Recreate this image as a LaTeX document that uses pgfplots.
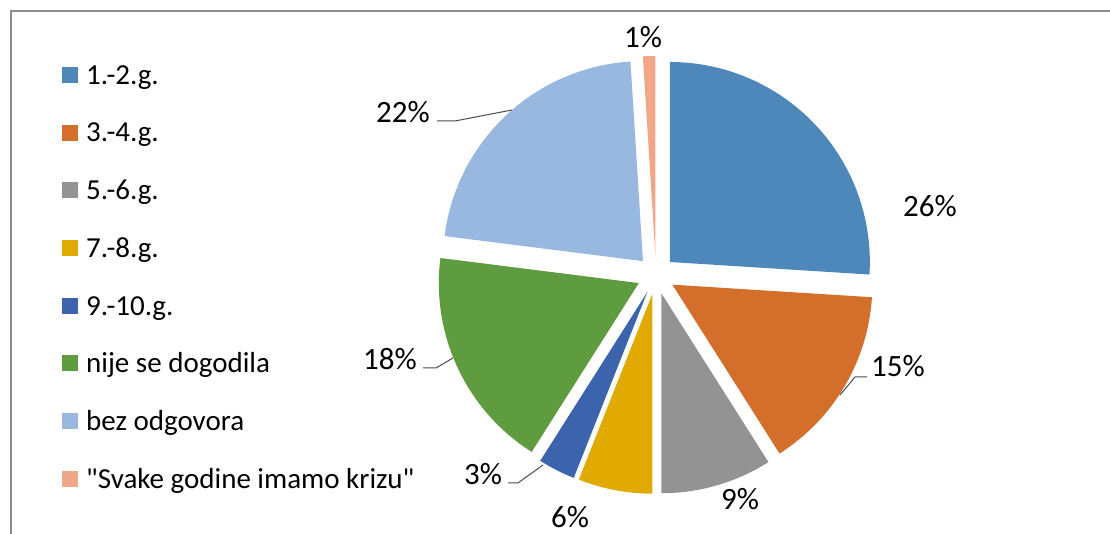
\documentclass[border=0pt]{standalone}
\usepackage{fontspec}
\setmainfont{Carlito}[Ligatures=TeXOff]
\usepackage{pgfplots}
\usepackage{pgfplotstable}
\pgfplotsset{compat=1.18}
\usetikzlibrary{calc}

\definecolor{cA}{HTML}{4E88BB}
\definecolor{cB}{HTML}{D46F2B}
\definecolor{cC}{HTML}{939393}
\definecolor{cD}{HTML}{E1AA00}
\definecolor{cE}{HTML}{3B64AD}
\definecolor{cF}{HTML}{5F9B3F}
\definecolor{cG}{HTML}{99B8DF}
\definecolor{cH}{HTML}{F2A688}

% share in %, slice colour, label position (px, y up)
\pgfplotstableread[col sep=comma]{
name,value,col,lx,ly
1.-2.g.,26,cA,930,327
3.-4.g.,15,cB,898,167
5.-6.g.,9,cC,740,34
7.-8.g.,6,cD,570,16
9.-10.g.,3,cE,483,59
nije se dogodila,18,cF,390,174
bez odgovora,22,cG,403,421
"Svake godine imamo krizu",1,cH,643,496
}\piedata

\begin{document}
\begin{tikzpicture}
\begin{axis}[
  x=1pt, y=1pt, xmin=0, xmax=1110, ymin=0, ymax=534,
  hide axis, clip=false, enlargelimits=false]
\pgfplotsextra{
  \coordinate (bl) at (axis cs:0,0);
  \coordinate (tr) at (axis cs:1110,534);
  % frame
  \draw[black!45, line width=1.5pt] (axis cs:11,0) -- (axis cs:11,523) -- (axis cs:1110,523);
  \def\cum{0}
  \pgfplotsforeachungrouped \i in {0,...,7}{%
    \pgfplotstablegetelem{\i}{value}\of\piedata \let\v\pgfplotsretval
    \pgfplotstablegetelem{\i}{col}\of\piedata \let\c\pgfplotsretval
    \pgfplotstablegetelem{\i}{name}\of\piedata \let\n\pgfplotsretval
    \pgfplotstablegetelem{\i}{lx}\of\piedata \let\lx\pgfplotsretval
    \pgfplotstablegetelem{\i}{ly}\of\piedata \let\ly\pgfplotsretval
    \pgfmathsetmacro\aS{90-3.6*\cum}
    \pgfmathsetmacro\aE{90-3.6*(\cum+\v)}
    \pgfmathsetmacro\aM{(\aS+\aE)/2}
    \fill[\c] ($(axis cs:656,259)+(\aM:19pt)$) -- ++(\aS:200pt)
      arc[start angle=\aS, end angle=\aE, radius=200pt] -- cycle;
    \pgfmathsetmacro\cum{\cum+\v}
    % data label
    \pgfmathsetmacro\lb{\ly-10}
    \node[anchor=base, inner sep=0pt, font=\fontsize{31}{36}\selectfont]
      at (axis cs:\lx,\lb) {\v\%};
    % legend entry
    \pgfmathsetmacro\Ly{459-57.7*\i}
    \fill[\c] (axis cs:62,\Ly-8) rectangle (axis cs:78,\Ly+8);
    \pgfmathsetmacro\Lb{\Ly-9.3}
    \node[anchor=base west, inner sep=0pt, font=\fontsize{29}{32}\selectfont]
      at (axis cs:86,\Lb) {\n};
  }
  % leader lines
  \draw[black!70, line width=1pt] (axis cs:437,413) -- (axis cs:455,413) -- (axis cs:512,424);
  \draw[black!70, line width=1pt] (axis cs:423,166) -- (axis cs:436,166) -- (axis cs:453,176);
  \draw[black!70, line width=1pt] (axis cs:508,51) -- (axis cs:518,51) -- (axis cs:543,69);
  \draw[black!70, line width=1pt] (axis cs:867,157) -- (axis cs:855,157) -- (axis cs:840,139);
}
\end{axis}
\pgfresetboundingbox
\path[use as bounding box] (bl) rectangle (tr);
\end{tikzpicture}
\end{document}
